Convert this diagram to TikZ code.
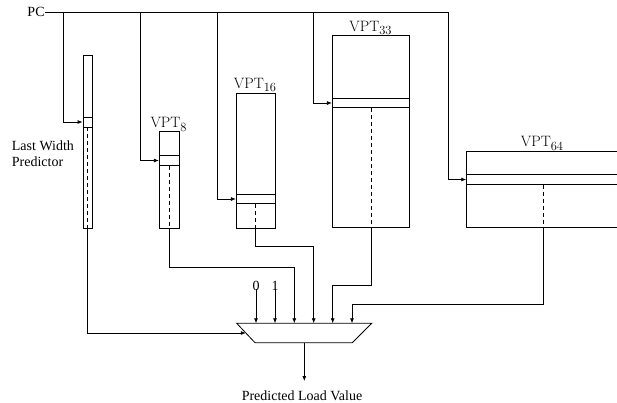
\documentclass[tikz,border=0pt]{standalone}
\usepackage{fontspec}
\newfontfamily\tms{Liberation Serif}
\usetikzlibrary{arrows.meta,calc}
\newcommand\vptlabel[1]{VPT\raisebox{-3.8pt}{\fontsize{12.5}{13}\selectfont #1}}
\begin{document}
\begin{tikzpicture}[x=1pt,y=-1pt,line width=0.8pt,
  tbl/.style={draw,inner sep=0pt},
  arr/.style={-{Latex[length=5pt,width=4pt]}},
  lbl/.style={inner sep=0pt,font=\tms\fontsize{14}{16}\selectfont},
  vlbl/.style={inner sep=0pt,anchor=base,font=\fontsize{15}{17}\selectfont},
  dsh/.style={dash pattern=on 4pt off 3pt}]
\useasboundingbox (0,0) rectangle (617,402);
\clip (0,0) rectangle (617,402);
% tables
\node[tbl,minimum width=9.7,minimum height=173] (lwp) at (87.85,141.5) {};
\node[tbl,minimum width=9.7,minimum height=10] (lwprow) at (87.85,122) {};
\node[tbl,minimum width=20,minimum height=96.3] (v8) at (169.3,179.85) {};
\node[tbl,minimum width=20,minimum height=9.6] (v8row) at (169.3,160.5) {};
\node[tbl,minimum width=38.7,minimum height=134.3] (v16) at (255.65,160.85) {};
\node[tbl,minimum width=38.7,minimum height=9.4] (v16row) at (255.65,199) {};
\node[tbl,minimum width=77.4,minimum height=192] (v33) at (371,131.7) {};
\node[tbl,minimum width=77.4,minimum height=9.4] (v33row) at (371,103) {};
\node[tbl,minimum width=154,minimum height=76.7] (v64) at (543.7,189.35) {};
\node[tbl,minimum width=154,minimum height=9.6] (v64row) at (543.7,179.5) {};
% labels
\node[lbl,anchor=east] (pc) at (45,12) {PC};
\node[lbl,anchor=west,align=left] (lwpl) at (11.5,154) {Last Width\\Predictor};
\node[vlbl] (l8) at (168.5,127.5) {\vptlabel{8}};
\node[vlbl] (l16) at (255,88) {\vptlabel{16}};
\node[vlbl] (l33) at (370.5,31) {\vptlabel{33}};
\node[vlbl] (l64) at (542,146.5) {\vptlabel{64}};
% PC bus
\coordinate (b1) at (63.3,12);
\coordinate (b2) at (140.3,12);
\coordinate (b3) at (217.3,12);
\coordinate (b4) at (313.3,12);
\coordinate (b5) at (448.3,12);
\draw (pc.east) -- (b5);
\draw[arr] (b1) |- (lwprow.west);
\draw[arr] (b2) |- (v8row.west);
\draw[arr] (b3) |- (v16row.west);
\draw[arr] (b4) |- (v33row.west);
\draw[arr] (b5) |- (v64row.west);
% dashed columns
\draw[dsh] (lwprow.south) -- (lwp.south);
\draw[dsh] (v8row.south) -- (v8.south);
\draw[dsh] (v16row.south) -- (v16.south);
\draw[dsh] (v33row.south) -- (v33.south);
\draw[dsh] (v64row.south) -- (v64.south);
% mux
\coordinate (ml) at (236.7,323.3);
\coordinate (mr) at (371.7,323.3);
\coordinate (br) at (352.3,342.7);
\coordinate (bl) at (255,342.7);
\draw (ml) -- (mr) -- (br) -- (bl) -- cycle;
\coordinate (in1) at (256,323.3);
\coordinate (in2) at (275,323.3);
\coordinate (in3) at (294.3,323.3);
\coordinate (in4) at (313.7,323.3);
\coordinate (in5) at (332.7,323.3);
\coordinate (in6) at (352,323.3);
\coordinate (sel) at ($(ml)!0.5!(bl)$);
\coordinate (mo) at (304.3,342.7);
\node[lbl,anchor=base] (z0) at (256,290) {0};
\node[lbl,anchor=base] (z1) at (275,290) {1};
\draw[arr] ([yshift=1.7]z0.south) -- (in1);
\draw[arr] ([yshift=1.7]z1.south) -- (in2);
\draw[arr] (v8.south) -- ++(0,38.7) -| (in3);
\draw[arr] (v16.south) -- ++(0,18) -| (in4);
\draw[arr] (v33.south) -- ++(0,57.3) -| (in5);
\draw[arr] (v64.south) -- ++(0,76.3) -| (in6);
\draw[arr] (lwp.south) |- (sel);
\node[lbl,anchor=base] (plv) at (302,400) {Predicted Load Value};
\draw[arr] (mo) -- ++(0,38.3);
\end{tikzpicture}
\end{document}
